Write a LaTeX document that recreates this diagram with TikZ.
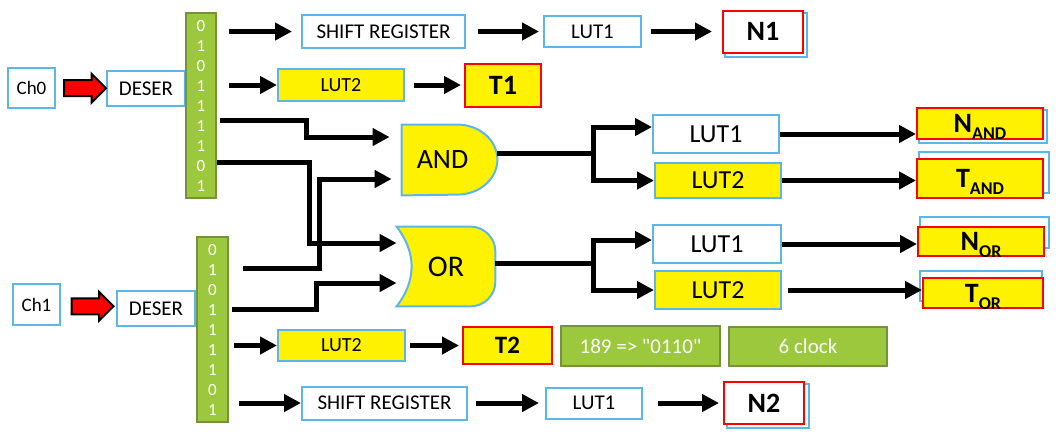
\documentclass[tikz,border=0pt]{standalone}
\usepackage{fontspec}
\setmainfont{Carlito}
\usetikzlibrary{arrows.meta,calc,positioning,shapes.arrows,backgrounds}

\definecolor{sky}{RGB}{91,183,234}
\definecolor{leaf}{RGB}{155,200,60}
\definecolor{leafdark}{RGB}{118,146,60}

\newcommand{\lowtag}[1]{\smash{\raisebox{-3.5pt}{\fontsize{9}{10}\selectfont #1}}}

\begin{document}
\begin{tikzpicture}[
  x=0.5pt, y=-0.5pt,
  inner sep=0pt,
  sz/.style 2 args={minimum width={#1*0.5pt}, minimum height={#2*0.5pt}},
  box/.style={draw=sky, line width=1pt, fill=white, font=\fontsize{10.5}{12}\selectfont},
  ybox/.style={box, fill=yellow, font=\fontsize{10}{12}\selectfont},
  lutbig/.style={box, font=\fontsize{13}{15}\selectfont},
  ylutbig/.style={lutbig, fill=yellow},
  res/.style={draw=red, line width=1pt, fill=white, font=\bfseries\fontsize{14}{16}\selectfont},
  yres/.style={res, fill=yellow, font=\bfseries\fontsize{14}{16}\selectfont},
  ghost/.style={draw=sky, line width=1pt},
  gate/.style={draw=sky, line width=1pt, fill=yellow},
  bits/.style={draw=leafdark, line width=1pt, fill=leaf, text=white, align=center, font=\fontsize{8.5}{10}\selectfont},
  note/.style={draw=leafdark, line width=1pt, fill=leaf, text=white, font=\fontsize{10.5}{12}\selectfont},
  wire/.style={line width=2.5pt},
  arr/.style={wire, -{Triangle[length=8.5pt, width=8.5pt]}},
  fatarrow/.style={single arrow, draw=black, fill=red, line width=1pt, inner xsep=0pt, inner ysep=3.5pt, minimum height=21pt, single arrow head extend=3.25pt}
]
\useasboundingbox (0,0) rectangle (1064,436);

% Channel 0
\node[box, sz={47}{40}, font=\fontsize{9.5}{11}\selectfont] (ch0) at (31.5,88) {Ch0};
\node[box, sz={78}{35}] (deser0) at (146,88.5) {DESER};
\path (ch0) -- node[fatarrow] (in0) {} (deser0);
\node[bits, sz={30}{185}] (bits0) at (201,105.5) {0\\1\\0\\1\\1\\1\\1\\0\\1};

\node[box, sz={163}{33}] (sr0) at (383.5,31.5) {SHIFT REGISTER};
\node[box, sz={97}{31}] (lut10) at (592.5,31.5) {LUT1};
\node[res, sz={80}{42}] (n1) at (763,31.5) {N1};
\node[ybox, sz={126}{32}] (lut20) at (341,85) {LUT2};
\node[yres, sz={76}{43}] (t1) at (503,85) {T1};

% Channel 1
\node[box, sz={47}{41}, font=\fontsize{9.5}{11}\selectfont] (ch1) at (36.5,304.5) {Ch1};
\node[box, sz={78}{35}] (deser1) at (156,308.5) {DESER};
\path (ch1) -- node[fatarrow] (in1) {} (deser1);
\node[bits, sz={31}{185}] (bits1) at (212.5,329.5) {0\\1\\0\\1\\1\\1\\1\\0\\1};

\node[ybox, sz={127}{31}] (lut2b) at (341.5,345.5) {LUT2};
\node[yres, sz={89}{37}, font=\bfseries\fontsize{12.5}{14}\selectfont] (t2) at (507.5,345.5) {T2};
\node[note, sz={159}{40}] (code) at (640.5,346) {189 => \textquotedbl 0110\textquotedbl};
\node[note, sz={158}{39}] (clock) at (808,346.5) {6 clock};
\node[box, sz={165}{33}] (sr1) at (384.5,403) {SHIFT REGISTER};
\node[box, sz={96}{31}] (lut11) at (594,403) {LUT1};
\node[res, sz={80}{42}] (n2) at (764,403) {N2};

% Gates
\node[sz={95}{70}, font=\fontsize{14}{16}\selectfont] (and) at (449.5,160) {\hspace{-7pt}AND};
\node[sz={98}{79}, font=\fontsize{15}{17}\selectfont] (or) at (446,266.5) {OR};

% LUTs after the gates
\node[lutbig, sz={126}{38}] (lut1a) at (716,134) {LUT1};
\node[ylutbig, sz={126}{35}] (lut2a) at (718,180.5) {LUT2};
\node[lutbig, sz={128}{38}] (lut1o) at (717,244) {LUT1};
\node[ylutbig, sz={126}{38}] (lut2o) at (718,290) {LUT2};

\node[yres, sz={126}{31}] (nand) at (980,123.5) {N\lowtag{AND}};
\node[yres, sz={126}{39}] (tand) at (980,178.5) {T\lowtag{AND}};
\node[yres, sz={126}{29}] (nor) at (981,241.5) {N\lowtag{OR}};
\node[yres, sz={120}{30}] (tor) at (983,293) {T\lowtag{OR}};

\begin{scope}[on background layer]
  \draw[gate] (and.north west) -- ($(and.north east)+(-40,0)$)
    arc[start angle=90, end angle=-90, x radius=20pt, y radius=17.5pt]
    -- (and.south west) -- cycle;
  \draw[gate] (or.north west) -- ($(or.north east)+(-25,0)$)
    arc[start angle=90, end angle=0, radius=12.5pt]
    -- ($(or.south east)+(0,-25)$)
    arc[start angle=0, end angle=-90, radius=12.5pt]
    -- (or.south west)
    .. controls ($(or.south west)+(20,-26)$) and ($(or.north west)+(20,26)$) .. (or.north west) -- cycle;
  % blue frames behind the results
  \draw[ghost] ($(n1.north west)+(3,3)$) rectangle ($(n1.south east)+(3,3)$);
  \draw[ghost] ($(n2.north west)+(4,3)$) rectangle ($(n2.south east)+(4,3)$);
  \draw[ghost] ($(nand.north west)+(3,3)$) rectangle ($(nand.south east)+(3,3)$);
  \draw[ghost] ($(tand.north west)+(3,-6)$) rectangle ($(tand.south east)+(5,-6)$);
  \draw[ghost] ($(nor.north west)+(3,-9)$) rectangle ($(nor.south east)+(4,-9)$);
  \draw[ghost] ($(tor.north west)+(-2,-6)$) rectangle ($(tor.south east)+(-2,-8)$);
\end{scope}

% Top rows
\draw[arr, shorten <=6pt, shorten >=4.5pt] (bits0.east |- sr0.west) -- (sr0.west);
\draw[arr, shorten <=6pt] (bits0.east |- lut20.west) -- (lut20.west);
\draw[arr, shorten <=6pt, shorten >=2pt] (sr0.east) -- (lut10.west);
\draw[arr, shorten <=4.5pt, shorten >=5pt] (lut10.east) -- (n1.west);
\draw[arr, shorten <=4.5pt, shorten >=1.5pt] (lut20.east) -- (t1.west);

% Gate inputs
\draw[arr, shorten >=6pt] ($(bits0.east)+(3,14.5)$) -- ++(86,0) |- ($(and.west)+(0,-23)$);
\draw[arr] ($(bits0.east)+(0,56.5)$) -- ++(92,0) |- ($(or.west)+(0,-23.5)$);
\draw[arr, shorten >=5pt] ($(bits1.east)+(14,-61.5)$) -- ++(76,0) |- ($(and.west)+(0,19)$);
\draw[arr] ($(bits1.east)+(3,-20.5)$) -- ++(84,0) |- ($(or.west)+(0,16.5)$);

% Gate outputs
\coordinate (andfork) at ($(and.east)+(96,-7)$);
\draw[wire] ($(and.east)+(0,-7)$) -- (andfork);
\draw[arr] (andfork) |- ($(lut1a.west)+(0,-7)$);
\draw[arr] (andfork) |- (lut2a.west);
\coordinate (orfork) at ($(or.east)+(98,-3.5)$);
\draw[wire] ($(or.east)+(0,-3.5)$) -- (orfork);
\draw[arr] (orfork) |- ($(lut1o.west)+(0,-4)$);
\draw[arr] (orfork) |- (lut2o.west);

\draw[arr] (lut1a.east) -- (lut1a.east -| nand.west);
\draw[arr] (lut2a.east) -- (lut2a.east -| tand.west);
\draw[arr] (lut1o.east) -- (lut1o.east -| nor.west);
\draw[arr, shorten <=3pt] (lut2o.east) -- (lut2o.east -| tor.west);

% Bottom rows
\draw[arr, shorten <=2.5pt] (bits1.east |- lut2b.west) -- (lut2b.west);
\draw[arr, shorten <=2pt, shorten >=1.5pt] (lut2b.east) -- (t2.west);
\draw[arr, shorten <=5pt] (bits1.east |- sr1.west) -- (sr1.west);
\draw[arr, shorten <=4pt, shorten >=3pt] (sr1.east) -- (lut11.west);
\draw[arr, shorten <=7.5pt, shorten >=2pt] (lut11.east) -- (n2.west);
\end{tikzpicture}
\end{document}
